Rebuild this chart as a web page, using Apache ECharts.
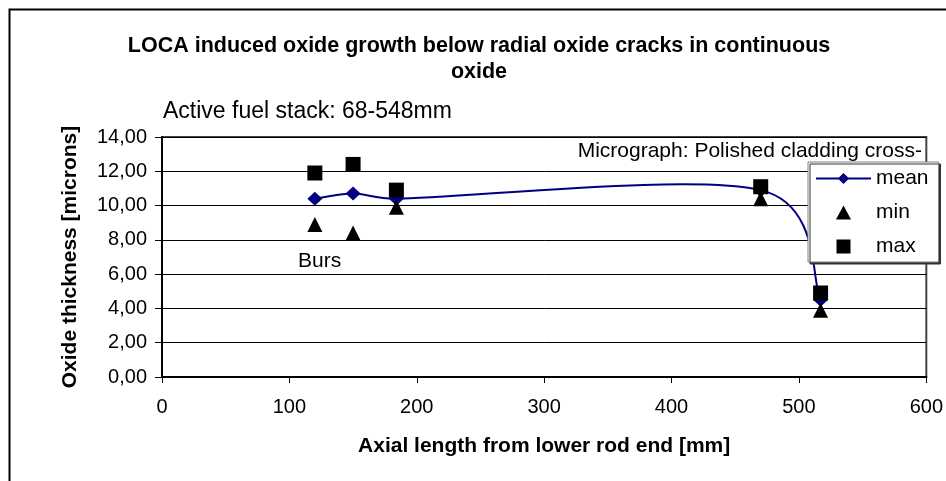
<!DOCTYPE html>
<html>
<head>
<meta charset="utf-8">
<title>LOCA induced oxide growth</title>
<script src="https://cdn.jsdelivr.net/npm/echarts@6/dist/echarts.min.js"></script>
<style>
  html, body { margin: 0; padding: 0; background: #fff; }
  #chart { width: 946px; height: 481px; }
</style>
</head>
<body>
<div id="chart"></div>
<script>
// axial position of each measurement [mm]
var axialPos = [120, 150, 184, 470, 517];
// oxide thickness [microns]
var meanVals = [10.4, 10.7, 10.4, 10.9, 4.5];
var minVals = [8.9, 8.4, 9.9, 10.4, 3.9];
var maxVals = [11.9, 12.4, 10.9, 11.1, 4.9];

var font = 'Liberation Sans, Arial, sans-serif';

function pairs(ys) {
  var out = [];
  for (var i = 0; i < axialPos.length; i++) {
    out.push([axialPos[i], ys[i]]);
  }
  return out;
}

// spreadsheet style smoothed segment between point i and i+1
// (bezier, tangent = 1/6 of the neighbour chord, capped at half the segment)
function smoothSegment(params, api) {
  var n = axialPos.length;
  var i = params.dataIndex;
  if (i >= n - 1) return null;
  var pt = function (j) {
    j = Math.max(0, Math.min(n - 1, j));
    return api.coord([axialPos[j], meanVals[j]]);
  };
  var p0 = pt(i - 1), p1 = pt(i), p2 = pt(i + 1), p3 = pt(i + 2);
  var seg = Math.hypot(p2[0] - p1[0], p2[1] - p1[1]);
  var d02 = Math.hypot(p2[0] - p0[0], p2[1] - p0[1]);
  var d13 = Math.hypot(p3[0] - p1[0], p3[1] - p1[1]);
  var f1 = d02 / 6 > seg / 2 ? (seg / 2) / d02 : 1 / 6;
  var f2 = d13 / 6 > seg / 2 ? (seg / 2) / d13 : 1 / 6;
  return {
    type: 'bezierCurve',
    shape: {
      x1: p1[0], y1: p1[1],
      cpx1: p1[0] + (p2[0] - p0[0]) * f1,
      cpy1: p1[1] + (p2[1] - p0[1]) * f1,
      cpx2: p2[0] - (p3[0] - p1[0]) * f2,
      cpy2: p2[1] - (p3[1] - p1[1]) * f2,
      x2: p2[0], y2: p2[1]
    },
    style: { stroke: '#000080', lineWidth: 2, fill: null }
  };
}

var chart = echarts.init(document.getElementById('chart'));

var option = {
  animation: false,
  backgroundColor: '#fff',
  title: {
    text: 'LOCA induced oxide growth below radial oxide cracks in continuous\noxide',
    left: 474,
    top: 28,
    textAlign: 'center',
    textStyle: {
      fontFamily: font,
      fontSize: 21.5,
      fontWeight: 'bold',
      color: '#000',
      lineHeight: 26
    }
  },
  legend: {
    orient: 'vertical',
    left: 808,
    top: 162,
    padding: [6, 10, 5, 7],
    itemWidth: 55,
    itemHeight: 14,
    itemGap: 13,
    symbolKeepAspect: true,
    backgroundColor: '#fff',
    borderColor: '#808080',
    borderWidth: 1,
    borderRadius: 0,
    shadowColor: '#333',
    shadowOffsetX: 2,
    shadowOffsetY: 2,
    textStyle: { fontFamily: font, fontSize: 21, color: '#000' },
    data: [
      { name: 'mean', lineStyle: { color: '#000080', width: 2, opacity: 1 } },
      { name: 'min', icon: 'path://M7,0L14,13L0,13Z' },
      { name: 'max', icon: 'path://M0,0L14,0L14,14L0,14Z' }
    ]
  },
  grid: {
    left: 162,
    right: 18,
    top: 137,
    bottom: 104,
    show: true,
    borderColor: '#444',
    borderWidth: 2
  },
  xAxis: {
    type: 'value',
    min: 0,
    max: 600,
    interval: 100,
    name: 'Axial length from lower rod end [mm]',
    nameLocation: 'middle',
    nameGap: 59,
    nameTextStyle: { fontFamily: font, fontSize: 21, fontWeight: 'bold', color: '#000' },
    axisLine: { lineStyle: { color: '#000', width: 2 } },
    axisTick: { show: true, inside: false, length: 6, lineStyle: { color: '#000' } },
    axisLabel: { fontFamily: font, fontSize: 20, color: '#000', margin: 20 },
    splitLine: { show: false }
  },
  yAxis: {
    type: 'value',
    min: 0,
    max: 14,
    interval: 2,
    name: 'Oxide thickness [microns]',
    nameLocation: 'middle',
    nameGap: 81,
    nameTextStyle: { fontFamily: font, fontSize: 21, fontWeight: 'bold', color: '#000' },
    axisLine: { show: true, lineStyle: { color: '#000', width: 2 } },
    axisTick: { show: true, inside: false, length: 7, lineStyle: { color: '#000' } },
    axisLabel: {
      fontFamily: font,
      fontSize: 20,
      color: '#000',
      margin: 15,
      formatter: function (v) { return v.toFixed(2).replace('.', ','); }
    },
    splitLine: { show: true, lineStyle: { color: '#000', width: 1 } }
  },
  graphic: [
    {
      // outer chart frame (only top and left edges fall inside the picture)
      type: 'rect',
      left: 7,
      top: 7,
      shape: { width: 960, height: 490 },
      style: { fill: null, stroke: '#000', lineWidth: 2 },
      silent: true
    },
    {
      type: 'text',
      left: 163,
      top: 100,
      style: { text: 'Active fuel stack: 68-548mm', fontFamily: font, fontSize: 23, fill: '#000' }
    },
    {
      type: 'text',
      right: 24,
      top: 141,
      style: { text: 'Micrograph: Polished cladding cross-', fontFamily: font, fontSize: 21, fill: '#000' }
    },
    {
      type: 'text',
      left: 298,
      top: 251,
      style: { text: 'Burs', fontFamily: font, fontSize: 21, fill: '#000' }
    }
  ],
  series: [
    {
      name: 'mean',
      type: 'line',
      data: pairs(meanVals),
      symbol: 'diamond',
      symbolSize: [15, 14],
      itemStyle: { color: '#000080' },
      lineStyle: { color: '#000080', width: 2, opacity: 0 },
      z: 3
    },
    {
      // smoothed mean curve
      name: 'mean',
      type: 'custom',
      data: pairs(meanVals),
      renderItem: smoothSegment,
      silent: true,
      z: 2
    },
    {
      name: 'min',
      type: 'scatter',
      data: pairs(minVals),
      symbol: 'triangle',
      symbolSize: 15,
      itemStyle: { color: '#000', opacity: 1 },
      z: 4
    },
    {
      name: 'max',
      type: 'scatter',
      data: pairs(maxVals),
      symbol: 'rect',
      symbolSize: 15,
      itemStyle: { color: '#000', opacity: 1 },
      z: 5
    }
  ]
};

chart.setOption(option);
</script>
</body>
</html>
